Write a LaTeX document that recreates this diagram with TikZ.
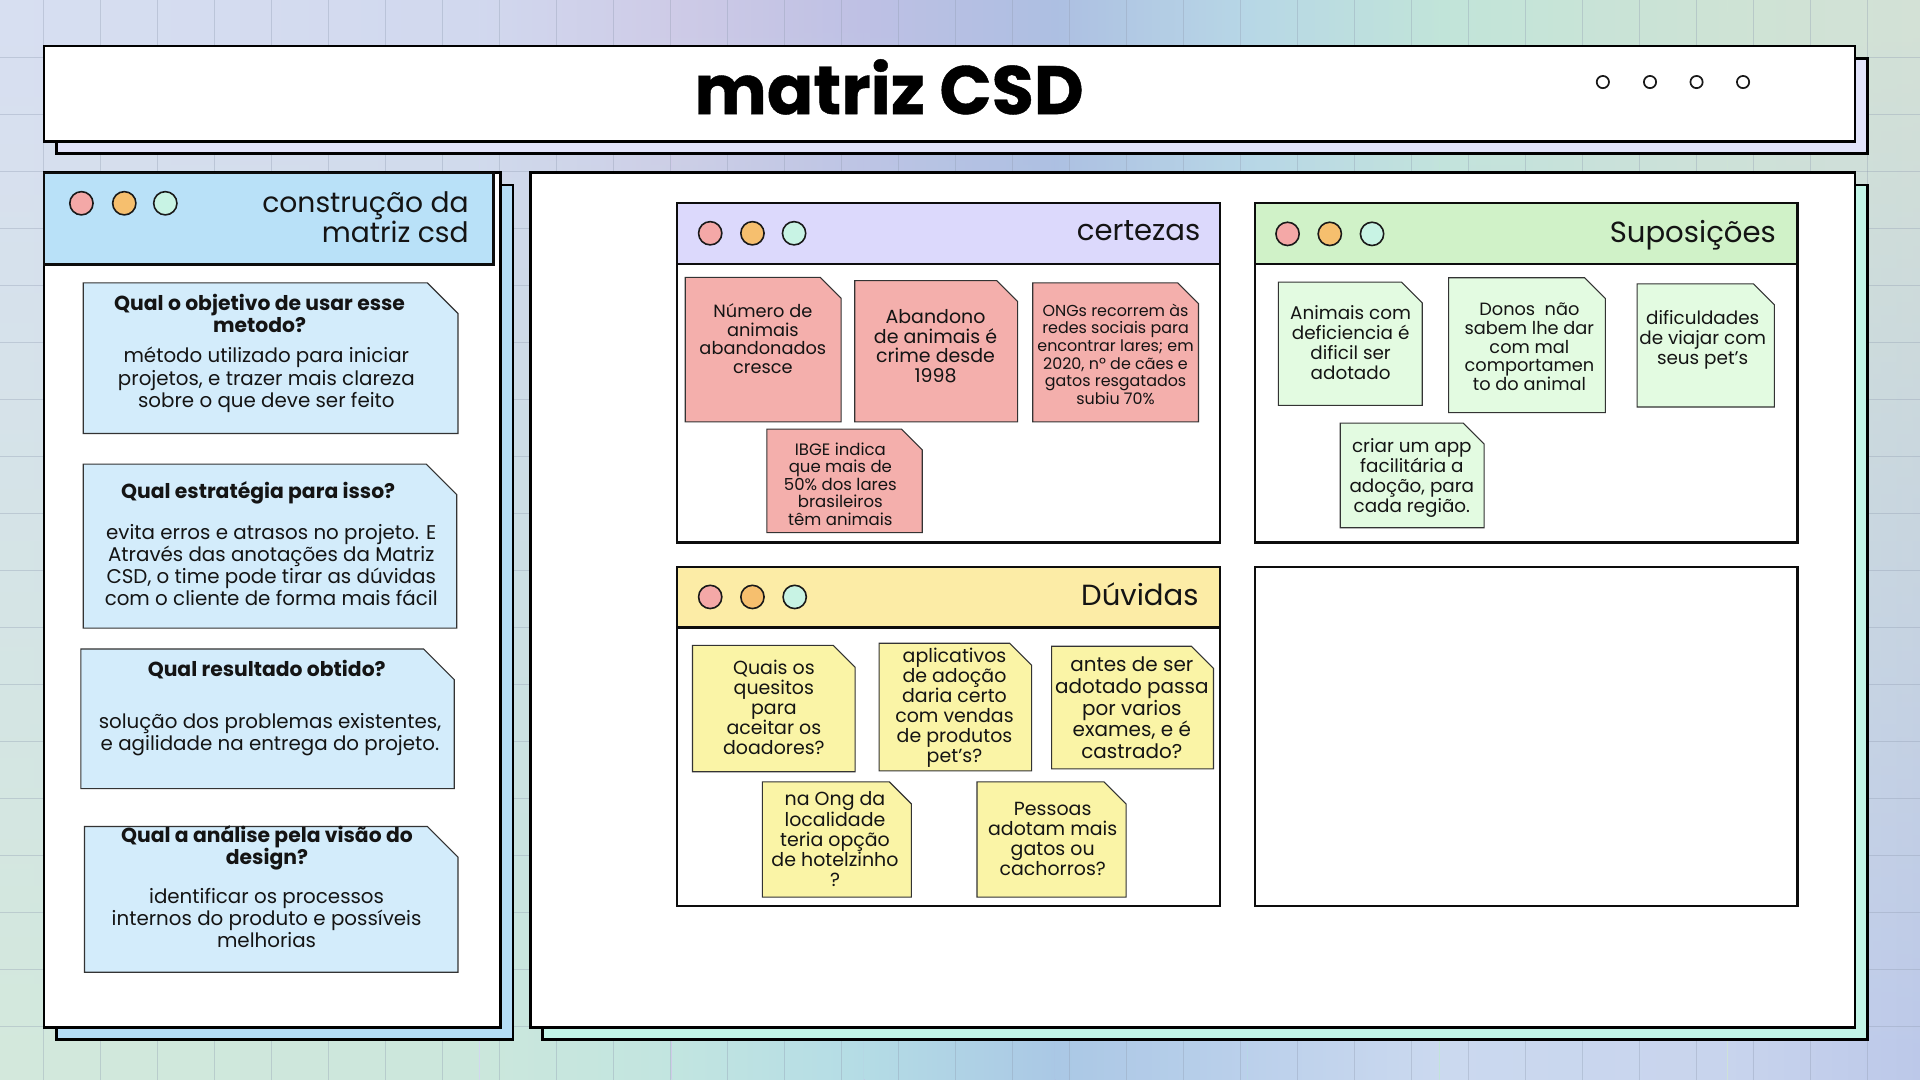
\documentclass[tikz,border=0pt]{standalone}
\usepackage{fontspec}
\setmainfont{Poppins}
\usetikzlibrary{fadings}
% background control colours (top / middle / bottom rows)
\definecolor{T0}{HTML}{D8DFF2}\definecolor{T1}{HTML}{D2D8EF}\definecolor{T2}{HTML}{CFCBE8}
\definecolor{T3}{HTML}{BFC0E4}\definecolor{T4}{HTML}{AEBFE2}\definecolor{T5}{HTML}{B7D8E6}
\definecolor{T6}{HTML}{C1E5D9}\definecolor{T7}{HTML}{CFE4D5}\definecolor{T8}{HTML}{D4E2D6}
\definecolor{M0}{HTML}{B4BAE0}\definecolor{M1}{HTML}{C6C6E6}\definecolor{M2}{HTML}{C8CCE8}
\definecolor{M3}{HTML}{C8D0EA}\definecolor{M4}{HTML}{C8D4EA}\definecolor{M5}{HTML}{D0D4E6}
\definecolor{M6}{HTML}{D6D2E4}\definecolor{M7}{HTML}{DAD0E3}\definecolor{M8}{HTML}{DCCFE2}
\definecolor{B0}{HTML}{D3E9DC}\definecolor{B1}{HTML}{CBE8DC}\definecolor{B2}{HTML}{C2E6E0}
\definecolor{B3}{HTML}{B4DDE6}\definecolor{B4}{HTML}{AAC9E6}\definecolor{B5}{HTML}{BCD0EC}
\definecolor{B6}{HTML}{CCD9F0}\definecolor{B7}{HTML}{C8D4EE}\definecolor{B8}{HTML}{BCC8EA}
\definecolor{gridc}{HTML}{8F9BB0}
% element colours
\definecolor{lavS}{HTML}{E1E3FA}
\definecolor{blueS}{HTML}{B5DDF6}
\definecolor{blueH}{HTML}{B9E1F8}
\definecolor{blueC}{HTML}{D3ECFB}
\definecolor{mintS}{HTML}{C2F5E7}
\definecolor{lavH}{HTML}{DCD9FC}
\definecolor{greenH}{HTML}{D0F2C8}
\definecolor{yelH}{HTML}{FCECA6}
\definecolor{pinkK}{HTML}{F4AFAC}
\definecolor{greenK}{HTML}{E3FBE1}
\definecolor{yelK}{HTML}{FAF4A6}
\definecolor{cPink}{HTML}{F4A8A7}
\definecolor{cOrange}{HTML}{F6BF6E}
\definecolor{cMint}{HTML}{C8F3E4}
\tikzfading[name=fmid, top color=transparent!100, middle color=transparent!0, bottom color=transparent!100]
\tikzfading[name=fbot, top color=transparent!100, middle color=transparent!100, bottom color=transparent!0]
\newcommand\fs[2]{\fontsize{#1}{#2}\selectfont}
% sticky note outline: #1 x1, #2 y1, #3 x2, #4 y2, #5 fill, #6 corner cut
\newcommand\stickshape[6]{%
  \filldraw[stkline, fill=#5] (#1,#2) -- ({#3-#6},#2) -- (#3,{#2+#6}) -- (#3,#4) -- (#1,#4) -- cycle;}
% three window dots: #1 x1, #2 x2, #3 x3, #4 y, #5 radius
\newcommand\windots[5]{%
  \filldraw[dotc, fill=cPink] (#1,#4) circle (#5);
  \filldraw[dotc, fill=cOrange] (#2,#4) circle (#5);
  \filldraw[dotc, fill=cMint] (#3,#4) circle (#5);}
\tikzset{
  frame/.style={draw=black, line width=2.2},
  win/.style={draw=black!95, line width=1.8},
  stkline/.style={draw=black!80, line width=0.9},
  dotc/.style={draw=black!90, line width=1.3},
  gridln/.style={draw=gridc, line width=0.8, opacity=0.35},
  txt/.style={inner sep=0, align=center, text=black!92},
  headtxt/.style={inner sep=0, text=black!92, font=\fs{23.8}{24.5}},
  cardtitle/.style={txt, font=\bfseries\fs{16.6}{18}},
  cardbody/.style={txt, font=\fs{16.2}{18.2}},
}
\begin{document}
\begin{tikzpicture}[x=1pt,y=-1pt]
\useasboundingbox (0,0) rectangle (1568,882);
% ---------- background gradient ----------
\foreach \xa/\xb/\i/\j in {0/392/0/1, 392/549/1/2, 549/706/2/3, 706/862/3/4, 862/1019/4/5, 1019/1176/5/6, 1176/1411/6/7, 1411/1568/7/8}{
  \shade[left color=T\i, right color=T\j] (\xa-0.6,-1) rectangle (\xb+0.6,883);
  \shade[left color=M\i, right color=M\j, path fading=fmid] (\xa,-1) rectangle (\xb,883);
  \shade[left color=B\i, right color=B\j, path fading=fbot] (\xa,-1) rectangle (\xb,883);
}
% ---------- grid ----------
\foreach \k in {1,...,18} \draw[gridln] (0,\k*46.55) -- (1568,\k*46.55);
\foreach \k in {0,...,33} \draw[gridln] (35.9+\k*46.55,0) -- (35.9+\k*46.55,882);

% ---------- title bar ----------
\filldraw[frame, fill=lavS] (46,48) rectangle (1525,125.5);
\filldraw[frame, fill=white] (36,37.5) rectangle (1515,115.5);
\node[inner sep=0, font=\bfseries\addfontfeatures{FakeBold=0.6}\fs{56}{56}] (title) at (726,71) {matriz CSD};
\foreach \x in {1309,1347.5,1385.5,1423.5} \filldraw[dotc, line width=1.4, fill=white] (\x,67) circle (5);

% ---------- left panel ----------
\filldraw[frame, fill=blueS] (46,151) rectangle (419,849);
\filldraw[frame, fill=white] (36,141) rectangle (409,839);
\filldraw[win, fill=blueH] (36,141) rectangle (403,216);
\windots{66.5}{101.5}{135}{166}{9.5}
\node[headtxt, font=\fs{23}{24.5}, align=right, anchor=east] (lhead) at (383,177.5) {construção da\\matriz csd};

\stickshape{68}{231}{374}{354}{blueC}{25}
\node[cardtitle] (q1) at (212,256) {Qual o objetivo de usar esse\\metodo?};
\node[cardbody] (a1) at (217.5,310.4) {método utilizado para iniciar\\projetos, e trazer mais clareza\\sobre o que deve ser feito};

\stickshape{68}{379}{373}{513}{blueC}{25}
\node[cardtitle] (q2) at (210.8,402.4) {Qual estratégia para isso?};
\node[cardbody] (a2) at (221.5,461.5) {evita erros e atrasos no projeto. E\\Através das anotações da Matriz\\CSD, o time pode tirar as dúvidas\\com o cliente de forma mais fácil};

\stickshape{66}{530}{371}{644}{blueC}{25}
\node[cardtitle] (q3) at (217.8,546.8) {Qual resultado obtido?};
\node[cardbody] (a3) at (220.5,599.8) {solução dos problemas existentes,\\e agilidade na entrega do projeto.};

\stickshape{69}{675}{374}{794}{blueC}{25}
\node[cardtitle] (q4) at (218,692.5) {Qual a análise pela visão do\\design?};
\node[cardbody] (a4) at (217.7,749.6) {identificar os processos\\internos do produto e possíveis\\melhorias};

% ---------- right panel ----------
\filldraw[frame, fill=mintS] (443,151) rectangle (1525,849);
\filldraw[frame, fill=white] (433,141) rectangle (1515,839);

% certezas window
\filldraw[win, fill=white] (553,166) rectangle (996,443);
\filldraw[win, fill=lavH] (553,166) rectangle (996,215.5);
\windots{580}{614.5}{648.5}{190.5}{9.5}
\node[headtxt, anchor=base east] (hcert) at (980.5,196.5) {certezas};

% suposicoes window
\filldraw[win, fill=white] (1025,166) rectangle (1468,443);
\filldraw[win, fill=greenH] (1025,166) rectangle (1468,215.5);
\windots{1051.5}{1086}{1120.5}{191}{9.5}
\node[headtxt, anchor=base east] (hsup) at (1450.5,198.3) {Suposições};

% duvidas window
\filldraw[win, fill=white] (553,463) rectangle (996,740);
\filldraw[win, fill=yelH] (553,463) rectangle (996,512.5);
\windots{580}{614.5}{649}{487.5}{9.5}
\node[headtxt, anchor=base east] (hduv) at (979,494.6) {Dúvidas};

% empty window
\filldraw[win, fill=white] (1025,463) rectangle (1468,740);

% ---------- certezas stickies ----------
\stickshape{559.6}{226.5}{686.9}{344.5}{pinkK}{17}
\node[txt, font=\fs{14.5}{15.3}] (c1) at (623,276.6) {Número de\\animais\\abandonados\\cresce};
\stickshape{698}{229.2}{831}{344.5}{pinkK}{17}
\node[txt, font=\fs{15.5}{16.1}] (c2) at (764,282.8) {Abandono\\de animais é\\crime desde\\1998};
\stickshape{843.4}{231}{978.8}{344.5}{pinkK}{17}
\node[txt, font=\fs{13}{14.4}] (c3) at (911,289.2) {ONGs recorrem às\\redes sociais para\\encontrar lares; em\\2020, nº de cães e\\gatos resgatados\\subiu 70\%};
\stickshape{626.3}{350.5}{753.2}{435}{pinkK}{17}
\node[txt, font=\fs{13.5}{14.3}] (c4) at (686.3,395.4) {IBGE indica\\que mais de\\50\% dos lares\\brasileiros\\têm animais};

% ---------- suposicoes stickies ----------
\stickshape{1044}{230.4}{1161.5}{331}{greenK}{17}
\node[txt, font=\fs{15}{16.2}] (s1) at (1103,279.8) {Animais com\\deficiencia é\\dificil ser\\adotado};
\stickshape{1183}{226.8}{1311}{337}{greenK}{17}
\node[txt, font=\fs{14.5}{15.3}] (s2) at (1249,283.3) {Donos\ \ não\\sabem lhe dar\\com mal\\comportamen\\to do animal};
\stickshape{1337}{231.8}{1449}{332.4}{greenK}{17}
\node[txt, font=\fs{15}{16.2}] (s3) at (1390.5,277.6) {dificuldades\\de viajar com\\seus pet's};
\stickshape{1094.5}{345.6}{1212}{431}{greenK}{17}
\node[txt, font=\fs{15}{16.4}] (s4) at (1153,390.6) {criar um app\\facilitária a\\adoção, para\\cada região.};

% ---------- duvidas stickies ----------
\stickshape{565.5}{527}{698.4}{630.3}{yelK}{18}
\node[txt, font=\fs{15.5}{16.3}] (d1) at (632,577.5) {Quais os\\quesitos\\para\\aceitar os\\doadores?};
\stickshape{718}{525.3}{842.5}{629.5}{yelK}{18}
\node[txt, font=\fs{15.5}{16.4}] (d2) at (779.5,578.2) {aplicativos\\de adoção\\daria certo\\com vendas\\de produtos\\pet's?};
\stickshape{858.8}{527.8}{991}{627.9}{yelK}{18}
\node[txt, font=\fs{16.3}{17.7}] (d3) at (924.3,578.1) {antes de ser\\adotado passa\\por varios\\exames, e é\\castrado?};
\stickshape{622.6}{638.5}{744.3}{732.7}{yelK}{18}
\node[txt, font=\fs{15.5}{16.4}] (d4) at (681.9,685.3) {na Ong da\\localidade\\teria opção\\de hotelzinho\\?};
\stickshape{797.9}{638.5}{919.6}{732.7}{yelK}{18}
\node[txt, font=\fs{15.5}{16.3}] (d5) at (859.7,685.5) {Pessoas\\adotam mais\\gatos ou\\cachorros?};
\end{tikzpicture}
\end{document}
